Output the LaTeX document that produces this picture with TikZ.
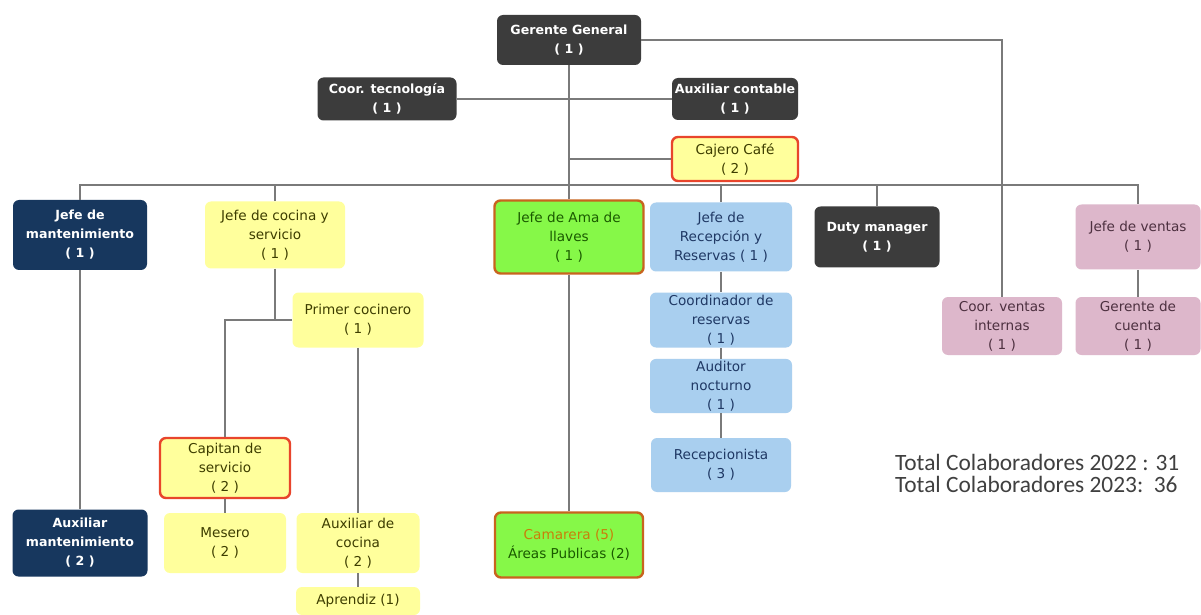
\documentclass[tikz,border=0pt]{standalone}
\usepackage{fontspec}
\setmainfont{DejaVu Sans}
\newfontfamily\carlito{Carlito}

\definecolor{grisOsc}{HTML}{3C3C3C}
\definecolor{marino}{HTML}{17375E}
\definecolor{amar}{HTML}{FFFF9C}
\definecolor{verdeV}{HTML}{86F848}
\definecolor{celeste}{HTML}{A9CFEF}
\definecolor{rosado}{HTML}{DDB7CB}
\definecolor{rojoB}{HTML}{E8452C}
\definecolor{cafeB}{HTML}{C8641E}
\definecolor{textoAm}{HTML}{3D3D00}
\definecolor{textoAz}{HTML}{1F3864}
\definecolor{textoRo}{HTML}{4D3040}
\definecolor{textoVe}{HTML}{1A5A00}
\definecolor{naranja}{HTML}{C87E0A}
\definecolor{linea}{HTML}{7A7A7A}
\definecolor{textoTot}{HTML}{404040}

\begin{document}
\begin{tikzpicture}[x=0.5pt,y=-0.5pt]
		\tikzstyle{caja} = [rectangle,rounded corners=3pt,align=center,inner sep=1pt,
			font=\fontsize{6.8}{9.5}\selectfont]
		\tikzstyle{oscuro} = [caja,fill=grisOsc,text=white,font=\fontsize{6.3}{9.5}\selectfont\bfseries]
		\tikzstyle{marino} = [caja,fill=marino,text=white,font=\fontsize{6.3}{9.5}\selectfont\bfseries]
		\tikzstyle{amarillo} = [caja,fill=amar,text=textoAm]
		\tikzstyle{rojo} = [amarillo,draw=rojoB,line width=1.2pt]
		\tikzstyle{verde} = [caja,fill=verdeV,draw=cafeB,line width=1.2pt,text=textoVe]
		\tikzstyle{azul} = [caja,fill=celeste,text=textoAz]
		\tikzstyle{rosa} = [caja,fill=rosado,text=textoRo]
		\tikzstyle{enlace} = [draw=linea,line width=0.7pt]

		\useasboundingbox[fill=white] (0,0) rectangle (1201,615);

		% direccion
		\node[oscuro,minimum width=72pt,minimum height=25pt](gerente) at (569,40) {Gerente General\\( 1 )};
		\node[oscuro,minimum width=69.5pt,minimum height=21.5pt](coortec) at (387,99) {Coor. tecnología\\( 1 )};
		\node[oscuro,minimum width=63pt,minimum height=21pt](auxcont) at (735,99) {Auxiliar contable\\( 1 )};
		\node[rojo,minimum width=63pt,minimum height=22pt](cajero) at (735,159) {Cajero Café\\( 2 )};

		% jefes
		\node[marino,minimum width=67pt,minimum height=35pt](jmant) at (80,235) {Jefe de\\mantenimiento\\( 1 )};
		\node[amarillo,minimum width=70pt,minimum height=33.5pt](jcocina) at (275,235) {Jefe de cocina y\\servicio\\( 1 )};
		\node[verde,minimum width=74.5pt,minimum height=36.5pt](ama) at (569,237) {Jefe de Ama de\\llaves\\( 1 )};
		\node[azul,minimum width=71pt,minimum height=34.5pt](recep) at (721,237) {Jefe de\\Recepción y\\Reservas ( 1 )};
		\node[oscuro,minimum width=62.5pt,minimum height=30.5pt](duty) at (877,237) {Duty manager\\( 1 )};
		\node[rosa,minimum width=62.5pt,minimum height=32.5pt](jventas) at (1138,237) {Jefe de ventas\\( 1 )};

		% tercer nivel
		\node[amarillo,minimum width=65.5pt,minimum height=27.5pt](primer) at (358,320) {Primer cocinero\\( 1 )};
		\node[azul,minimum width=71pt,minimum height=27.5pt](coordres) at (721,320) {Coordinador de\\reservas\\( 1 )};
		\node[azul,minimum width=71pt,minimum height=26pt](auditor) at (721,386) {Auditor\\nocturno\\( 1 )};
		\node[azul,minimum width=70pt,minimum height=27pt](recepcionista) at (721,465) {Recepcionista\\( 3 )};
		\node[rosa,minimum width=60pt,minimum height=29pt](coorvent) at (1002,326) {Coor. ventas\\internas\\( 1 )};
		\node[rosa,minimum width=62.5pt,minimum height=29pt](gcuenta) at (1138,326) {Gerente de\\cuenta\\( 1 )};

		% operativos
		\node[rojo,minimum width=65pt,minimum height=30pt](capitan) at (225,468) {Capitan de\\servicio\\( 2 )};
		\node[amarillo,minimum width=61pt,minimum height=30pt](mesero) at (225,543) {Mesero\\( 2 )};
		\node[amarillo,minimum width=61.5pt,minimum height=30pt](auxcoc) at (358,543) {Auxiliar de\\cocina\\( 2 )};
		\node[amarillo,minimum width=62pt,minimum height=14pt](aprendiz) at (358,601) {Aprendiz (1)};
		\node[marino,minimum width=67.5pt,minimum height=33.5pt](auxmant) at (80,543) {Auxiliar\\mantenimiento\\( 2 )};
		\node[verde,minimum width=74pt,minimum height=32.5pt](camarera) at (569,545) {\textcolor{naranja}{Camarera (5)}\\Áreas Publicas (2)};

		\node[font=\carlito\fontsize{11.7}{11}\selectfont,text=textoTot,align=left,anchor=west](total) at (888,473)
			{Total Colaboradores 2022 : 31\\Total Colaboradores 2023:\ \ 36};

		% conexiones
		\coordinate (bus) at (569,185);
		\draw[enlace] (gerente) -- (ama);
		\draw[enlace] (ama) -- (camarera);
		\draw[enlace] (coortec) -- (auxcont);
		\draw[enlace] (cajero) -- (cajero -| gerente);
		\draw[enlace] (gerente.east) -| (coorvent);
		\draw[enlace] (jmant) |- (bus) -| (jventas);
		\draw[enlace] (jcocina) -- (jcocina |- bus);
		\draw[enlace] (recep) -- (recep |- bus);
		\draw[enlace] (duty) -- (duty |- bus);
		\draw[enlace] (jmant) -- (auxmant);
		\draw[enlace] (jcocina) |- (primer);
		\draw[enlace] (jcocina |- primer) -| (capitan);
		\draw[enlace] (capitan) -- (mesero);
		\draw[enlace] (primer) -- (auxcoc);
		\draw[enlace] (auxcoc) -- (aprendiz);
		\draw[enlace] (recep) -- (coordres);
		\draw[enlace] (coordres) -- (auditor);
		\draw[enlace] (auditor) -- (recepcionista);
		\draw[enlace] (jventas) -- (gcuenta);
\end{tikzpicture}
\end{document}
